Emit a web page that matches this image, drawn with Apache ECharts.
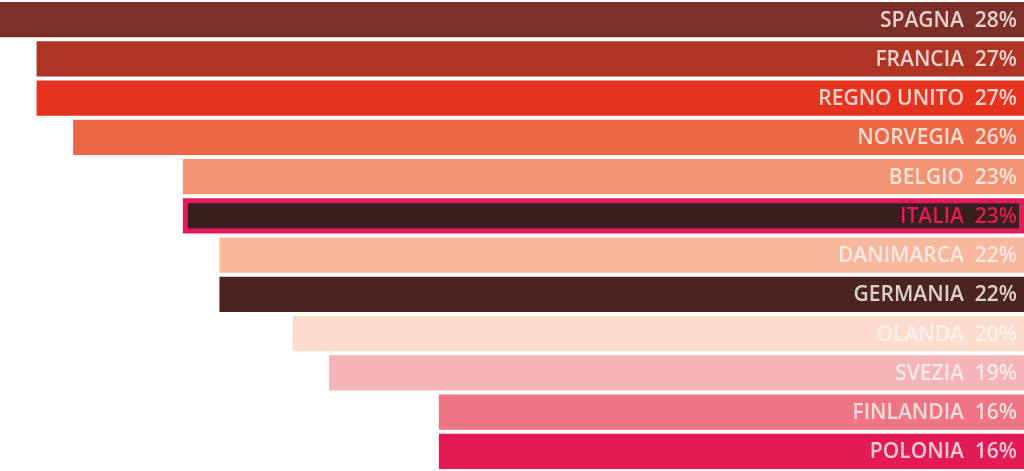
<!DOCTYPE html>
<html><head><meta charset="utf-8">
<script src="https://cdn.jsdelivr.net/npm/echarts@6/dist/echarts.min.js"></script>
<style>html,body{margin:0;padding:0;background:#fff}#c{width:1024px;height:471px}</style>
</head><body><div id="c"></div>
<script>
const categories = ['SPAGNA','FRANCIA','REGNO UNITO','NORVEGIA','BELGIO','ITALIA','DANIMARCA','GERMANIA','OLANDA','SVEZIA','FINLANDIA','POLONIA'];
const values = [28,27,27,26,23,23,22,22,20,19,16,16];
const colors = ['#7a3029','#ae3526','#e5331f','#ec6745','#f29472','#3a1f1f','#f8b89e','#4a2420','#fbdccf','#f5b5b8','#ef7585','#e31a55'];
const highlight = 'ITALIA';

const chart = echarts.init(document.getElementById('c'));
chart.setOption({
  animation:false,
  grid:{left:0,right:0,top:0,bottom:0},
  xAxis:{type:'value',inverse:true,min:0,max:28,show:false},
  yAxis:{type:'category',inverse:true,data:categories,show:false},
  series:[{
    type:'bar',
    barCategoryGap:'10%',
    data:values.map((v,i)=>{
      const hl = categories[i]===highlight;
      return {
        value:v,
        itemStyle:{color:colors[i], borderColor: hl?'#e31b5b':'transparent', borderWidth: hl?5:0},
        label:{color: hl?'#e31b5b':'rgba(255,244,240,0.82)'}
      };
    }),
    label:{
      show:true,
      position:'insideRight',
      distance:7,
      offset:[0,1],
      fontFamily:'Open Sans',
      fontWeight:600,
      fontSize:21,
      formatter:p=>p.name+'  '+p.value+'%'
    }
  }]
});
</script></body></html>
